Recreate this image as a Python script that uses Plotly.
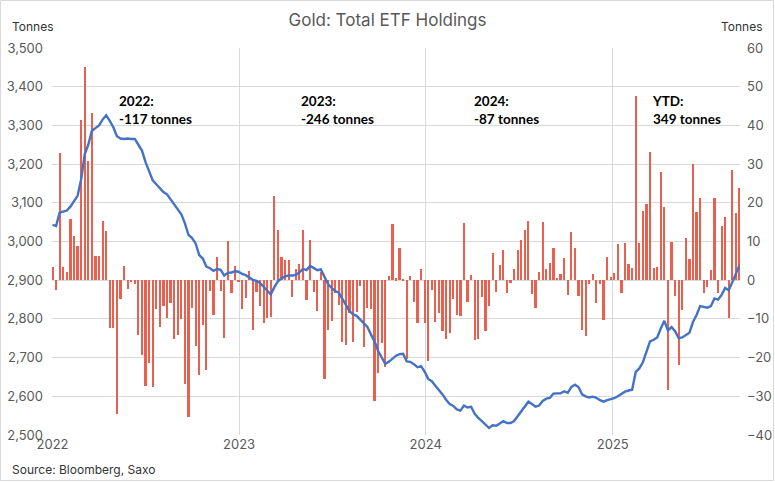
import pandas as pd
import plotly.graph_objects as go

# Weekly dates (first week of 2022 through early Sep 2025)
week_dates = pd.date_range("2022-01-01", periods=193, freq="7D")

# Weekly flows (tonnes, right axis)
flows = [
    # 2022 H1
    3.3, -2.6, 32.8, 3.3, 2.1, 15.7, 11.4, 8.8, 41.4, 55.2, 30.9, 43.3, 6.2, 6.2, 15.4, 12.7,
    -12.3, -12.3, -34.7, -4.8, 3.6, -2.4, -0.5, -1.0, -14.2, -19.3, -27.3, -21.4, -27.6, -7.4, -12.2, -6.6,
    # 2022 H2 / early 2023
    -9.7, -6.0, -15.3, -14.2, -9.9, -26.7, -35.3, -7.2, -17.0, -24.4, -11.5, -23.1, -2.9, -8.9, 5.9, -2.8,
    -14.9, 10.1, -3.3, 3.6, -0.4, -7.4, -4.6, 2.3, -12.8, -3.0, -6.6, -11.0, -9.7, -9.6, 21.7, 12.9,
    # 2023
    5.9, 5.3, 5.1, -4.3, 3.0, 4.1, 13.1, -5.0, 10.5, -3.1, -7.9, 2.0, -25.4, -12.8, -10.5, -3.4,
    -6.3, -15.9, -16.8, -8.6, -15.9, -8.2, -1.5, -17.2, -7.2, -7.4, -31.2, -24.1, -16.2, -22.5, 1.1, 14.5,
    # late 2023 / 2024
    0.5, 8.4, 0.3, -20.3, 1.0, -5.6, -11.0, 2.8, -11.0, -20.9, -2.6, -10.8, -8.4, -13.1, -15.1, -13.6,
    -4.9, -9.1, -9.3, 14.7, -5.6, 1.3, -15.5, -15.1, -4.3, -13.1, -6.6, 7.1, -3.0, 3.9, 7.8, -3.2,
    # 2024 H2
    -0.7, 3.0, 7.9, 10.3, 12.9, 15.3, -3.6, -7.2, 2.1, 15.0, 3.0, 4.5, 8.2, 0.6, 1.6, 5.7,
    -3.8, 12.4, 8.2, -4.1, -12.8, -14.4, -0.9, 1.6, -5.9, -0.9, -10.2, 5.9, 0.8, 1.9, 9.3,
    # 2025
    -3.4, 9.7, 4.1, 3.1, 47.6, 9.7, 17.9, 19.8, 33.1, 3.1, 3.4, 27.9, 18.9, -28.4, 9.8, -4.0, -21.8,
    -7.8, 10.9, 5.4, 30.0, 17.5, 21.2, -3.3, -1.7, 2.6, 21.2, -3.2, 14.1, 16.3, -9.7, 28.4, 17.3, 23.8,
]

# Total holdings (tonnes, left axis)
holdings = [
    3043, 3040, 3075, 3077, 3080, 3090, 3105, 3118, 3160, 3225, 3250, 3286, 3293, 3300, 3315, 3326,
    3312, 3295, 3272, 3266, 3265, 3266, 3265, 3265, 3250, 3235, 3205, 3180, 3158, 3148, 3139, 3128,
    3122, 3108, 3094, 3083, 3070, 3047, 3017, 3009, 2995, 2965, 2956, 2935, 2931, 2924, 2929, 2927,
    2912, 2919, 2920, 2923, 2922, 2916, 2913, 2906, 2901, 2898, 2893, 2883, 2873, 2863, 2882, 2897,
    2905, 2910, 2912, 2912, 2914, 2920, 2929, 2926, 2937, 2932, 2926, 2928, 2907, 2890, 2880, 2872,
    2868, 2850, 2836, 2820, 2812, 2808, 2798, 2790, 2779, 2760, 2742, 2717, 2700, 2684, 2689, 2697,
    2705, 2709, 2710, 2690, 2689, 2683, 2675, 2678, 2664, 2645, 2639, 2627, 2617, 2605, 2591, 2580,
    2575, 2566, 2563, 2576, 2571, 2573, 2555, 2544, 2536, 2527, 2518, 2525, 2524, 2530, 2536, 2531,
    2531, 2536, 2548, 2562, 2575, 2586, 2580, 2573, 2576, 2588, 2594, 2596, 2607, 2607, 2608, 2613,
    2609, 2624, 2630, 2624, 2605, 2600, 2597, 2599, 2596, 2590, 2586, 2590, 2592, 2595, 2600,
    2606, 2612, 2615, 2617, 2663, 2672, 2688, 2714, 2742, 2746, 2752, 2775, 2795, 2770, 2779, 2768, 2750,
    2752, 2758, 2764, 2792, 2810, 2833, 2831, 2829, 2833, 2853, 2850, 2862, 2880, 2874, 2895, 2915, 2939,
]

year_ticks = ["2022-01-01", "2023-01-01", "2024-01-01", "2025-01-01"]
year_labels = ["2022", "2023", "2024", "2025"]
left_ticks = [2500, 2600, 2700, 2800, 2900, 3000, 3100, 3200, 3300, 3400, 3500]
right_ticks = [-40, -30, -20, -10, 0, 10, 20, 30, 40, 50, 60]

notes = [
    ("2022:<br>-117 tonnes", 0.0945),
    ("2023:<br>-246 tonnes", 0.359),
    ("2024:<br>-87 tonnes", 0.611),
    ("YTD:<br>349 tonnes", 0.869),
]

W, H = 775, 482
ML, MR, MT, MB = 52, 35, 48, 47

fig = go.Figure()
fig.add_trace(go.Bar(
    x=week_dates, y=flows, yaxis="y", name="Weekly flows",
    marker=dict(color="#E9604F", line=dict(width=0)),
    width=4.3 * 86400000,
))
fig.add_trace(go.Scatter(
    x=week_dates, y=holdings, yaxis="y2", mode="lines", name="Total holdings",
    line=dict(color="#4472C4", width=2.4),
))

tick_font = dict(family="Inter, Open Sans, sans-serif", size=13, color="#595959")

fig.update_layout(
    width=W, height=H,
    margin=dict(l=ML, r=MR, t=MT, b=MB, pad=0),
    paper_bgcolor="white", plot_bgcolor="white",
    showlegend=False,
    bargap=0,
    title=dict(text="Gold: Total ETF Holdings", x=0.5, xanchor="center", y=1 - 20 / H, yanchor="middle",
               font=dict(family="Inter, Open Sans, sans-serif", size=17, color="#595959")),
    xaxis=dict(
        type="date", range=["2021-12-31", "2025-09-07"],
        tickvals=year_ticks, ticktext=year_labels,
        showgrid=True, gridcolor="#D9D9D9", gridwidth=1,
        zeroline=False, showline=False, ticks="", automargin=False,
        tickfont=tick_font,
    ),
    yaxis=dict(
        side="right", range=[-40, 60], tickvals=right_ticks,
        showgrid=True, gridcolor="#D9D9D9", gridwidth=1,
        zeroline=False, showline=False, ticks="", automargin=False,
        tickfont=tick_font, ticklabelstandoff=6,
    ),
    yaxis2=dict(
        overlaying="y", side="left", range=[2500, 3500], tickvals=left_ticks,
        tickformat=",d", showgrid=False, zeroline=False, showline=False, ticks="", automargin=False,
        tickfont=tick_font, ticklabelstandoff=8,
    ),
)

pw, ph = W - ML - MR, H - MT - MB
annotations = []
for txt, xp in notes:
    annotations.append(dict(
        text="<b>" + txt + "</b>", xref="paper", yref="paper", x=xp, y=(H - MB - 91) / ph,
        xanchor="left", yanchor="top", align="left", showarrow=False,
        font=dict(family="Lato, Noto Sans, sans-serif", size=13.5, color="black"),
    ))
annotations.append(dict(text="Tonnes", xref="paper", yref="paper", x=(10 - ML) / pw, y=(H - MB - 27) / ph,
                        xanchor="left", yanchor="middle", showarrow=False,
                        font=dict(family="Inter, Open Sans, sans-serif", size=12, color="#333333")))
annotations.append(dict(text="Tonnes", xref="paper", yref="paper", x=(765 - ML) / pw, y=(H - MB - 27) / ph,
                        xanchor="right", yanchor="middle", showarrow=False,
                        font=dict(family="Inter, Open Sans, sans-serif", size=12, color="#333333")))
annotations.append(dict(text="Source: Bloomberg, Saxo", xref="paper", yref="paper", x=(10 - ML) / pw,
                        y=(H - MB - 469) / ph, xanchor="left", yanchor="middle", showarrow=False,
                        font=dict(family="Inter, Open Sans, sans-serif", size=12, color="#333333")))
fig.update_layout(annotations=annotations)

# chart-area border
fig.add_shape(type="rect", xref="paper", yref="paper",
              x0=(0.5 - ML) / pw, x1=(W - 1.5 - ML) / pw,
              y0=(H - MB - (H - 1.5)) / ph, y1=(H - MB - 0.5) / ph,
              line=dict(color="#D9D9D9", width=1), fillcolor="rgba(0,0,0,0)", layer="below")

fig.write_html("out.html", config={"displayModeBar": False},
               post_script="document.body.style.margin='0';document.body.style.overflow='hidden';")
